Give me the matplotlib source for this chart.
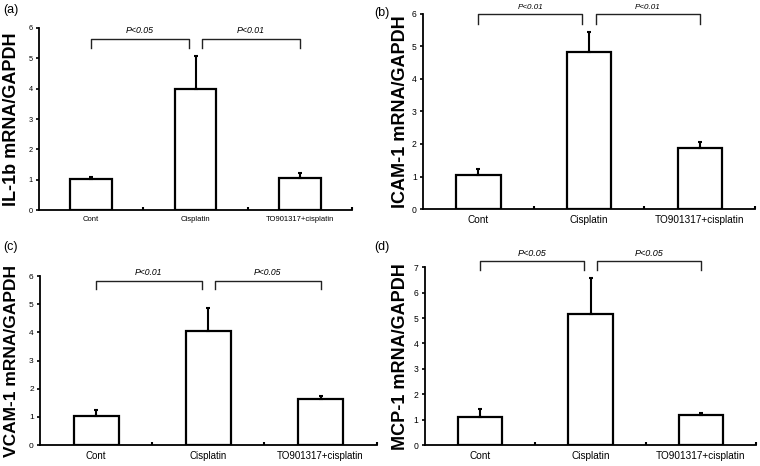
import matplotlib
matplotlib.use('Agg')
from matplotlib import pyplot as plt

plt.rcParams['font.family'] = ['Liberation Sans', 'DejaVu Sans']

groups = ['Cont', 'Cisplatin', 'TO901317+cisplatin']

il1b_mean = [1.01, 3.98, 1.07]
il1b_err = [0.09, 1.10, 0.14]
icam_mean = [1.05, 4.81, 1.87]
icam_err = [0.17, 0.61, 0.18]
vcam_mean = [1.04, 4.05, 1.63]
vcam_err = [0.19, 0.81, 0.12]
mcp_mean = [1.09, 5.16, 1.19]
mcp_err = [0.34, 1.41, 0.07]

labels_a = ['P<0.05', 'P<0.01']
labels_b = ['P<0.01', 'P<0.01']
labels_c = ['P<0.01', 'P<0.05']
labels_d = ['P<0.05', 'P<0.05']


def panel(fig, rect, mean, err, ylabel, ymax, brackets, bracket_y, tag, tag_xy,
          tick_fs, ytick_fs, p_fs, ylab_x, ylab_fs=13):
    ax = fig.add_axes(rect)
    x = list(range(len(groups)))
    ax.bar(x, mean, width=0.40, color='white', edgecolor='black', linewidth=1.6, zorder=2)
    ax.errorbar(x, mean, yerr=[[0] * len(err), err], fmt='none', ecolor='black',
                elinewidth=1.5, capsize=1.2, capthick=1.5, zorder=3)
    ax.set_xlim(-0.5, 2.5)
    ax.set_ylim(0, ymax)
    ax.set_yticks(range(0, ymax + 1))
    ax.set_xticks(x)
    ax.set_xticklabels(groups, fontsize=tick_fs)
    ax.set_xticks([0.5, 1.5, 2.5], minor=True)
    ax.tick_params(axis='x', which='major', length=0, pad=4)
    ax.tick_params(axis='x', which='minor', direction='in', length=2, width=1.5)
    ax.tick_params(axis='y', direction='out', length=2.5, width=1.2, labelsize=ytick_fs, pad=2)
    for s in ['top', 'right']:
        ax.spines[s].set_visible(False)
    for s in ['left', 'bottom']:
        ax.spines[s].set_linewidth(1.3)
    ax.set_ylabel(ylabel, fontsize=ylab_fs, fontweight='bold')
    ax.yaxis.set_label_coords(ylab_x, 0.5)

    top, drop, ty = bracket_y
    spans = [(0.0, 0.94), (1.06, 2.0)]
    for (x0, x1), txt in zip(spans, brackets):
        ax.plot([x0, x0, x1, x1], [drop, top, top, drop], color='#222222', lw=1.0,
                clip_on=False)
        ax.text((x0 + x1) / 2, ty, txt, fontsize=p_fs, style='italic',
                ha='center', va='center')
    fig.text(tag_xy[0], tag_xy[1], tag, fontsize=9, ha='left', va='center')
    return ax


def main():
    fig = plt.figure(figsize=(7.6, 4.66), dpi=100)

    panel(fig, [0.0513, 0.549, 0.412, 0.391], il1b_mean, il1b_err,
          'IL-1b mRNA/GAPDH', 6, labels_a, (5.64, 5.35, 5.9),
          '(a)', (0.004, 0.978), 5.5, 5.3, 6.3, -0.061)
    panel(fig, [0.5566, 0.551, 0.437, 0.420], icam_mean, icam_err,
          'ICAM-1 mRNA/GAPDH', 6, labels_b, (5.98, 5.67, 6.18),
          '(b)', (0.492, 0.973), 7.2, 6.2, 5.8, -0.042)
    panel(fig, [0.0526, 0.045, 0.443, 0.3625], vcam_mean, vcam_err,
          'VCAM-1 mRNA/GAPDH', 6, labels_c, (5.82, 5.53, 6.12),
          '(c)', (0.004, 0.47), 7.0, 6.0, 6.2, -0.062, 12.5)
    panel(fig, [0.559, 0.045, 0.436, 0.3815], mcp_mean, mcp_err,
          'MCP-1 mRNA/GAPDH', 7, labels_d, (7.23, 6.88, 7.53),
          '(d)', (0.492, 0.47), 7.2, 6.2, 6.5, -0.048)

    fig.savefig('out.png', dpi=100)


if __name__ in '__main__':
    main()
